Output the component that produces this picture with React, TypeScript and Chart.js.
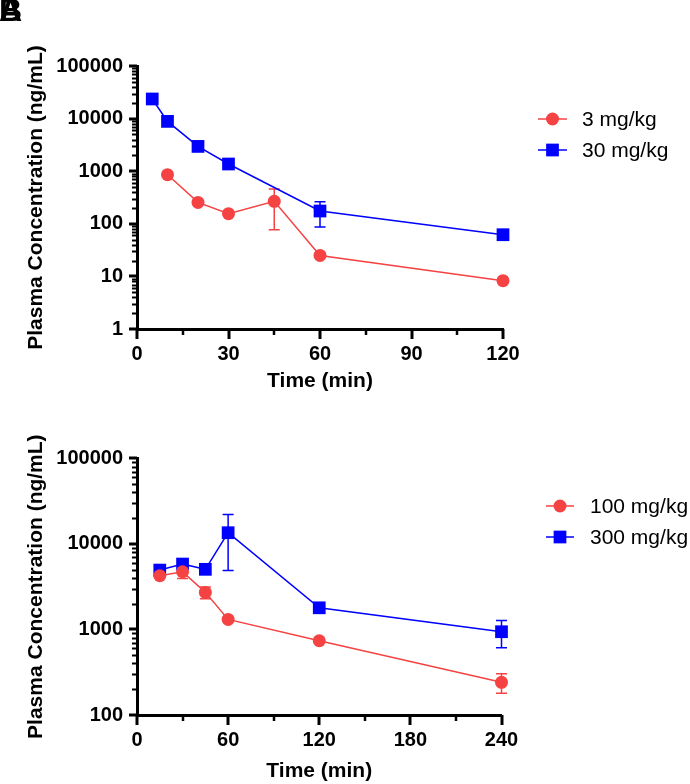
import React, { useEffect, useRef } from 'react';
import { Chart, registerables } from 'chart.js';
Chart.register(...registerables);

const RED = 'rgb(245,66,66)';
const BLUE = 'rgb(0,0,255)';
const FONT = '"Liberation Sans", Arial, Helvetica, sans-serif';

// ---- Panel A ----
const timesA3 = [10, 20, 30, 45, 60, 120];
const meanA3 = [858, 255, 156, 267, 25, 8.3];
const sdA3 = [0, 0, 0, 190, 0, 0];
const timesA30 = [5, 10, 20, 30, 60, 120];
const meanA30 = [23600, 8850, 2960, 1370, 175, 62];
const sdA30 = [0, 0, 0, 0, 88, 0];
const xTicksA = [0, 30, 60, 90, 120];
const xMinorA = [15, 45, 75, 105];
const yTicksA = [1, 10, 100, 1000, 10000, 100000];
const labelsA = ['3 mg/kg', '30 mg/kg'];

// ---- Panel B ----
const timesB100 = [15, 30, 45, 60, 120, 240];
const meanB100 = [4240, 4720, 2710, 1310, 738, 241];
const sdB100 = [0, 770, 430, 0, 0, 62];
const timesB300 = [15, 30, 45, 60, 120, 240];
const meanB300 = [4940, 5810, 5040, 13500, 1790, 940];
const sdB300 = [0, 0, 0, 8600, 0, 330];
const xTicksB = [0, 60, 120, 180, 240];
const xMinorB = [30, 90, 150, 210];
const yTicksB = [100, 1000, 10000, 100000];
const labelsB = ['100 mg/kg', '300 mg/kg'];

const Y_TITLE = 'Plasma Concentration (ng/mL)';
const X_TITLE = 'Time (min)';

type Series = { label: string; times: number[]; mean: number[]; sd: number[]; color: string; style: string; radius: number };

type PanelProps = {
  height: number;
  padTop: number;
  padRight: number;
  xHeight: number;
  xTicks: number[];
  xMinor: number[];
  yTicks: number[];
  series: Series[];
  legend: { lineX0: number; lineX1: number; textX: number; ys: number[] };
};

const errorBarPlugin = {
  id: 'errorBars',
  beforeDatasetsDraw(chart: any) {
    const ctx = chart.ctx;
    const xs = chart.scales.x;
    const ys = chart.scales.y;
    chart.data.datasets.forEach((ds: any) => {
      const sd: number[] = ds.sd || [];
      ctx.save();
      ctx.strokeStyle = ds.borderColor;
      ctx.lineWidth = 1.5;
      ds.data.forEach((p: any, i: number) => {
        const s = sd[i];
        if (!s) return;
        const px = xs.getPixelForValue(p.x);
        const lo = Math.max(p.y - s, ys.min);
        const hi = p.y + s;
        const pyLo = ys.getPixelForValue(lo);
        const pyHi = ys.getPixelForValue(hi);
        const cap = 5.5;
        ctx.beginPath();
        ctx.moveTo(px, pyLo);
        ctx.lineTo(px, pyHi);
        ctx.moveTo(px - cap, pyHi);
        ctx.lineTo(px + cap, pyHi);
        if (p.y - s > ys.min) {
          ctx.moveTo(px - cap, pyLo);
          ctx.lineTo(px + cap, pyLo);
        }
        ctx.stroke();
      });
      ctx.restore();
    });
  },
};

const axisTickPlugin = {
  id: 'axisTicks',
  afterDraw(chart: any, _args: any, opts: any) {
    const ctx = chart.ctx;
    const xs = chart.scales.x;
    const ys = chart.scales.y;
    const area = chart.chartArea;
    ctx.save();
    ctx.strokeStyle = '#000';
    ctx.lineCap = 'butt';
    const xb = area.bottom;
    xs.ticks.forEach((t: any) => {
      const px = Math.round(xs.getPixelForValue(t.value));
      ctx.lineWidth = 3;
      ctx.beginPath();
      ctx.moveTo(px, xb);
      ctx.lineTo(px, xb + 10);
      ctx.stroke();
    });
    (opts.xMinor || []).forEach((v: number) => {
      const px = Math.round(xs.getPixelForValue(v));
      ctx.lineWidth = 2.5;
      ctx.beginPath();
      ctx.moveTo(px, xb);
      ctx.lineTo(px, xb + 6);
      ctx.stroke();
    });
    const xl = area.left;
    ys.ticks.forEach((t: any) => {
      const py = Math.round(ys.getPixelForValue(t.value));
      ctx.lineWidth = 3;
      ctx.beginPath();
      ctx.moveTo(xl, py);
      ctx.lineTo(xl - 8, py);
      ctx.stroke();
    });
    const d0 = Math.round(Math.log10(ys.min));
    const d1 = Math.round(Math.log10(ys.max));
    for (let d = d0; d < d1; d++) {
      for (let k = 2; k <= 9; k++) {
        const py = Math.round(ys.getPixelForValue(k * Math.pow(10, d))) + 0.5;
        ctx.lineWidth = 2;
        ctx.beginPath();
        ctx.moveTo(xl, py);
        ctx.lineTo(xl - 5, py);
        ctx.stroke();
      }
    }
    ctx.restore();
  },
};

const legendPlugin = {
  id: 'sideLegend',
  afterDraw(chart: any, _args: any, opts: any) {
    const ctx = chart.ctx;
    const lg = opts.legend;
    if (!lg) return;
    ctx.save();
    chart.data.datasets.forEach((ds: any, i: number) => {
      const y = lg.ys[i];
      ctx.strokeStyle = ds.borderColor;
      ctx.fillStyle = ds.borderColor;
      ctx.lineWidth = 1.5;
      ctx.beginPath();
      ctx.moveTo(lg.lineX0, y);
      ctx.lineTo(lg.lineX1, y);
      ctx.stroke();
      const cx = (lg.lineX0 + lg.lineX1) / 2;
      ctx.beginPath();
      if (ds.pointStyle === 'rect') {
        const s = ds.pointRadius * Math.SQRT1_2;
        ctx.rect(cx - s, y - s, 2 * s, 2 * s);
      } else {
        ctx.arc(cx, y, ds.pointRadius, 0, Math.PI * 2);
      }
      ctx.fill();
      ctx.fillStyle = '#000';
      ctx.font = `21px ${FONT}`;
      ctx.textBaseline = 'middle';
      ctx.textAlign = 'left';
      ctx.fillText(ds.label, lg.textX, y + 1);
    });
    ctx.restore();
  },
};

function Panel(props: PanelProps) {
  const ref = useRef<HTMLCanvasElement | null>(null);
  useEffect(() => {
    if (!ref.current) return;
    const chart = new Chart(ref.current, {
      type: 'line',
      data: {
        datasets: props.series.map((s) => ({
          label: s.label,
          data: s.times.map((t, i) => ({ x: t, y: s.mean[i] })),
          sd: s.sd,
          borderColor: s.color,
          backgroundColor: s.color,
          pointBackgroundColor: s.color,
          pointBorderColor: s.color,
          pointBorderWidth: 0,
          pointStyle: s.style,
          pointRadius: s.radius,
          borderWidth: 1.5,
          tension: 0,
          fill: false,
          clip: false,
        })) as any,
      },
      options: {
        responsive: false,
        animation: false,
        devicePixelRatio: 1,
        layout: { padding: { top: props.padTop, right: props.padRight, bottom: 0, left: 0 } },
        plugins: {
          legend: { display: false },
          tooltip: { enabled: false },
          axisTicks: { xMinor: props.xMinor },
          sideLegend: { legend: props.legend },
        } as any,
        scales: {
          x: {
            type: 'linear',
            min: props.xTicks[0],
            max: props.xTicks[props.xTicks.length - 1],
            afterBuildTicks: (s: any) => {
              s.ticks = props.xTicks.map((v) => ({ value: v }));
            },
            afterFit: (s: any) => {
              s.height = props.xHeight;
            },
            ticks: {
              autoSkip: false,
              maxRotation: 0,
              padding: 13,
              color: '#000',
              font: { family: FONT, size: 20, weight: 'bold' },
              callback: (v: any) => String(v),
            },
            grid: { display: false, drawTicks: false },
            border: { display: true, color: '#000', width: 3 },
            title: {
              display: true,
              text: X_TITLE,
              color: '#000',
              font: { family: FONT, size: 21, weight: 'bold' },
              padding: { top: 0, bottom: 0 },
            },
          },
          y: {
            type: 'logarithmic',
            min: props.yTicks[0],
            max: props.yTicks[props.yTicks.length - 1],
            afterBuildTicks: (s: any) => {
              s.ticks = props.yTicks.map((v) => ({ value: v }));
            },
            afterFit: (s: any) => {
              s.width = 137;
            },
            ticks: {
              autoSkip: false,
              padding: 14,
              color: '#000',
              font: { family: FONT, size: 20, weight: 'bold' },
              callback: (v: any) => String(v),
            },
            grid: { display: false, drawTicks: false },
            border: { display: true, color: '#000', width: 3 },
            title: {
              display: true,
              text: Y_TITLE,
              color: '#000',
              font: { family: FONT, size: 21, weight: 'bold' },
              padding: { top: 24, bottom: 0 },
            },
          },
        } as any,
      },
      plugins: [errorBarPlugin, axisTickPlugin, legendPlugin],
    });
    return () => chart.destroy();
  }, []);
  return <canvas ref={ref} width={690} height={props.height} style={{ display: 'block', width: 690, height: props.height }} />;
}

export default function App() {
  const seriesA: Series[] = [
    { label: labelsA[0], times: timesA3, mean: meanA3, sd: sdA3, color: RED, style: 'circle', radius: 6.5 },
    { label: labelsA[1], times: timesA30, mean: meanA30, sd: sdA30, color: BLUE, style: 'rect', radius: 9 },
  ];
  const seriesB: Series[] = [
    { label: labelsB[0], times: timesB100, mean: meanB100, sd: sdB100, color: RED, style: 'circle', radius: 6.5 },
    { label: labelsB[1], times: timesB300, mean: meanB300, sd: sdB300, color: BLUE, style: 'rect', radius: 9 },
  ];
  const letter: React.CSSProperties = {
    position: 'absolute',
    left: -1,
    top: -8,
    fontFamily: FONT,
    fontWeight: 'bold',
    fontSize: 32,
    color: '#000',
    lineHeight: 'normal',
  };
  return (
    <div style={{ position: 'absolute', left: 0, top: 0, width: 690, height: 784, background: '#fff', overflow: 'hidden' }}>
      <Panel
        height={394}
        padTop={66}
        padRight={187}
        xHeight={65}
        xTicks={xTicksA}
        xMinor={xMinorA}
        yTicks={yTicksA}
        series={seriesA}
        legend={{ lineX0: 538, lineX1: 567, textX: 582, ys: [119, 150] }}
      />
      <Panel
        height={390}
        padTop={64.3}
        padRight={188.5}
        xHeight={69}
        xTicks={xTicksB}
        xMinor={xMinorB}
        yTicks={yTicksB}
        series={seriesB}
        legend={{ lineX0: 546, lineX1: 574, textX: 590, ys: [112, 143] }}
      />
      <div style={letter}>A</div>
      <div style={letter}>B</div>
    </div>
  );
}
